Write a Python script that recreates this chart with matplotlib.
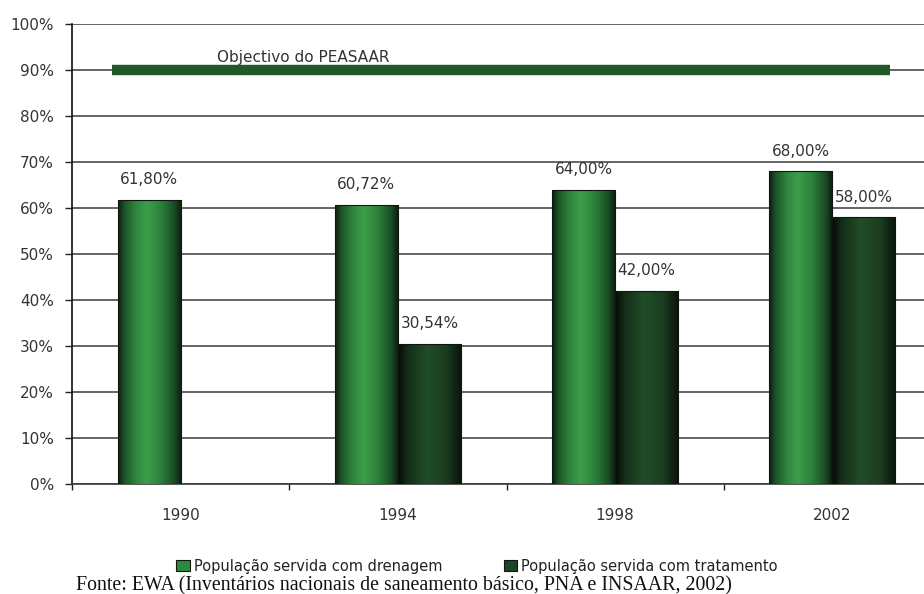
import numpy as np
import matplotlib.pyplot as plt
from matplotlib.colors import LinearSegmentedColormap
from matplotlib.patches import Patch

anos = ["1990", "1994", "1998", "2002"]
drenagem = [61.80, 60.72, 64.00, 68.00]
tratamento = [np.nan, 30.54, 42.00, 58.00]
objectivo = 90

nomes_series = ["População servida com drenagem", "População servida com tratamento"]
nome_objectivo = "Objectivo do PEASAAR"
fonte = "Fonte: EWA (Inventários nacionais de saneamento básico, PNA e INSAAR, 2002)"
ticks_y = list(range(0, 101, 10))

# gradientes horizontais (efeito cilindro) das barras
cmap_dren = LinearSegmentedColormap.from_list(
    "dren", [(0, "#0e1a10"), (0.1, "#1c5428"), (0.28, "#2e863d"),
             (0.45, "#3d9e4b"), (0.68, "#2b7f3a"), (0.88, "#1a4d25"), (1, "#0c180e")])
cmap_trat = LinearSegmentedColormap.from_list(
    "trat", [(0, "#060906"), (0.15, "#142e19"), (0.45, "#214d29"),
             (0.75, "#1b3d21"), (1, "#0a130b")])

plt.rcParams['font.family'] = ['DejaVu Sans']


def desenha_barras(ax, xs, valores, largura, cmap):
    barras = ax.bar(xs, valores, width=largura, facecolor='none',
                    edgecolor='#101510', linewidth=0.8, zorder=4)
    grad = np.linspace(0, 1, 256).reshape(1, -1)
    for b in barras:
        x0, y0 = b.get_x(), b.get_y()
        im = ax.imshow(grad, cmap=cmap, aspect='auto', interpolation='bicubic',
                       extent=(x0, x0 + b.get_width(), y0, y0 + b.get_height()),
                       zorder=3)
        im.set_clip_path(b)
    return barras


fig = plt.figure(figsize=(9.24, 5.94), dpi=100)
ax = fig.add_axes([72 / 924, 1 - 484 / 594, 869 / 924, 460 / 594])

x = np.arange(len(anos))
largura = 0.29
dren = np.array(drenagem)
trat = np.array(tratamento)
ok = ~np.isnan(trat)

b1 = desenha_barras(ax, x - largura / 2, dren, largura, cmap_dren)
b2 = desenha_barras(ax, x[ok] + largura / 2, trat[ok], largura, cmap_trat)

def rotula(barras, valores):
    for b, v in zip(barras, valores):
        ax.annotate(f"{v:.2f}%".replace(".", ","),
                    (b.get_x() + b.get_width() / 2, b.get_height()),
                    xytext=(0, 9), textcoords='offset points',
                    ha='center', va='bottom', fontsize=11, color='#333333')

rotula(b1, dren)
rotula(b2, trat[ok])

# linha do objectivo
ax.axhline(objectivo, xmin=40 / 869, xmax=818 / 869, color='#1f5a2b',
           linewidth=7.5, solid_capstyle='butt', zorder=5)
ax.text(0.266, objectivo + 1, nome_objectivo, transform=ax.get_yaxis_transform(),
        ha='center', va='bottom', fontsize=11, color='#333333')

ax.set_xlim(-0.5, len(anos) - 0.5)
ax.set_ylim(0, 100)

ax.set_yticks(ticks_y)
ax.set_yticklabels([f"{t}%" for t in ticks_y])
ax.tick_params(axis='y', length=5, width=1, color='#222222', pad=8,
               labelsize=11, labelcolor='#333333')

ax.set_xticks(x)
ax.set_xticklabels(anos)
ax.set_xticks(np.arange(len(anos) + 1) - 0.5, minor=True)
ax.tick_params(axis='x', which='major', length=0, pad=17,
               labelsize=11, labelcolor='#333333')
ax.tick_params(axis='x', which='minor', length=4.5, width=1, color='#222222')

ax.grid(axis='y', color='#3a3a3a', linewidth=1.1, zorder=1)
ax.set_axisbelow(True)
for lado in ['top', 'right']:
    ax.spines[lado].set_visible(False)
ax.spines['left'].set_color('#111111')
ax.spines['bottom'].set_color('#3a3a3a')
ax.spines['left'].set_linewidth(1.2)
ax.spines['bottom'].set_linewidth(1.2)

handles = [Patch(facecolor='#2e8a3d', edgecolor='#101510', linewidth=0.8),
           Patch(facecolor='#1d4524', edgecolor='#101510', linewidth=0.8)]
fig.legend(handles, nomes_series, loc='center', ncol=2, frameon=False,
           bbox_to_anchor=(477 / 924, 1 - 566 / 594), fontsize=10.5,
           handlelength=0.95, handleheight=0.75, handletextpad=0.25,
           columnspacing=4.2, labelcolor='#222222')

fig.text(76 / 924, 1 - 590 / 594, fonte, family='Liberation Serif',
         fontsize=14.3, va='baseline', ha='left', color='#111111')

fig.savefig("out.png", dpi=100)
